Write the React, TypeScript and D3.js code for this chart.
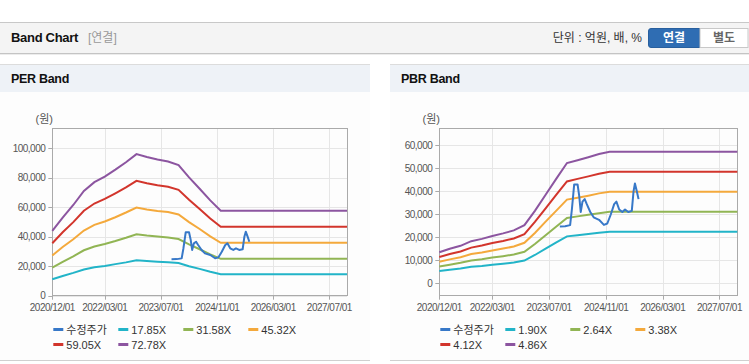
import React from "react";
import * as d3 from "d3";

// ---- Data ----
const bandDates = ["2020-12-01","2021-03-01","2021-06-01","2021-09-01","2021-12-01","2022-03-01","2022-06-01","2022-09-01","2022-12-01","2023-03-01","2023-06-01","2023-09-01","2023-12-01","2024-03-01","2024-06-01","2024-09-01","2024-12-01","2027-12-01"];

const perLabels = ["17.85X", "31.58X", "45.32X", "59.05X", "72.78X"];
const per1785 = [11200, 13400, 15500, 17800, 19300, 20200, 21400, 22600, 24000, 23500, 23100, 22700, 22100, 20000, 18200, 16300, 14600, 14600];
const per3158 = [19100, 23000, 26700, 30800, 33400, 35100, 37100, 39300, 41700, 40800, 40100, 39500, 38400, 34800, 31500, 28000, 25000, 25000];
const per4532 = [27300, 33000, 38300, 44200, 48000, 50300, 53200, 56400, 59800, 58500, 57500, 56700, 55100, 49900, 45200, 40200, 35900, 35900];
const per5905 = [35600, 43000, 49900, 57600, 62500, 65600, 69400, 73400, 77900, 76300, 74900, 73800, 71800, 65100, 58800, 52400, 46700, 46700];
const per7278 = [43900, 53000, 61500, 71000, 77000, 80800, 85500, 90500, 96000, 94000, 92300, 91000, 88500, 80200, 72500, 64600, 57600, 57600];

const pbrLabels = ["1.90X", "2.64X", "3.38X", "4.12X", "4.86X"];
const pbr190 = [5300, 5900, 6400, 7200, 7500, 8100, 8500, 9000, 9900, 12300, 15100, 17800, 20400, 20900, 21400, 22000, 22400, 22400];
const pbr264 = [7300, 8100, 8900, 9900, 10500, 11200, 11800, 12500, 13700, 17100, 20900, 24700, 28400, 29100, 29800, 30500, 31100, 31100];
const pbr338 = [9400, 10400, 11300, 12700, 13400, 14300, 15100, 16000, 17600, 21900, 26800, 31600, 36400, 37200, 38100, 39100, 39800, 39800];
const pbr412 = [11400, 12700, 13800, 15500, 16400, 17500, 18400, 19500, 21400, 26700, 32600, 38600, 44300, 45400, 46500, 47600, 48500, 48500];
const pbr486 = [13500, 15000, 16300, 18300, 19300, 20600, 21700, 23000, 25300, 31500, 38500, 45500, 52300, 53500, 54800, 56200, 57200, 57200];

const priceDates = ["2023-10-01","2023-11-15","2023-12-28","2024-01-12","2024-02-01","2024-03-01","2024-03-15","2024-03-28","2024-04-12","2024-05-01","2024-05-19","2024-06-18","2024-07-17","2024-09-01","2024-10-13","2024-11-11","2024-12-10","2025-01-09","2025-01-28","2025-02-21","2025-03-20","2025-04-12","2025-05-10","2025-06-09","2025-06-24","2025-07-06","2025-07-22","2025-08-06"];
const priceValues = [24700, 24800, 25300, 32000, 43000, 43000, 38000, 31000, 35500, 36600, 34400, 31000, 28700, 27600, 25400, 26000, 29800, 34400, 35500, 32100, 31000, 32100, 31000, 31500, 40000, 43400, 40000, 36600];

const xTickLabels = ["2020/12/01", "2022/03/01", "2023/07/01", "2024/11/01", "2026/03/01", "2027/07/01"];
const perYTicks = [0, 20000, 40000, 60000, 80000, 100000];
const pbrYTicks = [0, 10000, 20000, 30000, 40000, 50000, 60000];
const priceLabel = "수정주가";

const bandColors = ["#22b4c8", "#91b554", "#f4a93c", "#d2352c", "#8c55a0"];
const priceColor = "#3778c8";

const FONT = "'Liberation Sans', 'Noto Sans CJK KR', sans-serif";
const parse = d3.timeParse("%Y-%m-%d");
const parseTick = d3.timeParse("%Y/%m/%d");

type PanelProps = {
  px: number; pw: number; title: string;
  left: number; right: number; top: number; bottom: number;
  yDomain: [number, number]; yTicks: number[];
  bands: number[][]; labels: string[];
};

function Panel(p: PanelProps) {
  const x = d3.scaleTime().domain([parse("2020-12-01")!, parse("2027-12-01")!]).range([p.left, p.right]);
  const y = d3.scaleLinear().domain(p.yDomain).range([p.bottom, p.top]);
  const line = d3.line<[Date, number]>().x(d => x(d[0])).y(d => y(d[1]));
  const bDates = bandDates.map(s => parse(s)!);
  const pDates = priceDates.map(s => parse(s)!);
  const fmt = d3.format(",");
  const legendItems = [{ label: priceLabel, color: priceColor }, ...p.labels.map((l, i) => ({ label: l, color: bandColors[i] }))];
  const legX = p.left + 1;
  return (
    <g>
      <rect x={p.px} y={92} width={p.pw} height={268} fill="#fdfdfd" />
      <rect x={p.px} y={64} width={p.pw} height={28} fill="#eef2f7" />
      <line x1={p.px} x2={p.px + p.pw} y1={64.5} y2={64.5} stroke="#dcdcdc" />
      <line x1={p.px} x2={p.px + p.pw} y1={360.5} y2={360.5} stroke="#d0d0d0" />
      <text x={p.px + 11} y={83} fontFamily={FONT} fontWeight="bold" fontSize={12.5} letterSpacing={-0.3} fill="#111">{p.title}</text>
      <text x={p.left - 8} y={123} textAnchor="middle" fontFamily={FONT} fontSize={11} fill="#555">(원)</text>
      {/* grid */}
      {p.yTicks.map(t => (
        <line key={"gy" + t} x1={p.left} x2={p.right} y1={Math.round(y(t)) + 0.5} y2={Math.round(y(t)) + 0.5} stroke="#e6e6e6" />
      ))}
      {xTickLabels.map(t => {
        const xx = Math.round(x(parseTick(t)!)) + 0.5;
        return <line key={"gx" + t} x1={xx} x2={xx} y1={p.top} y2={p.bottom} stroke="#e6e6e6" />;
      })}
      {/* frame */}
      <rect x={Math.round(p.left) + 0.5} y={Math.round(p.top) + 0.5} width={Math.round(p.right - p.left)} height={Math.round(p.bottom - p.top)} fill="none" stroke="#aaaaaa" />
      {/* y ticks */}
      {p.yTicks.map(t => (
        <g key={"yt" + t}>
          <line x1={p.left - 4} x2={p.left} y1={Math.round(y(t)) + 0.5} y2={Math.round(y(t)) + 0.5} stroke="#aaaaaa" />
          <text x={p.left - 7} y={y(t) + 3.5} textAnchor="end" fontFamily={FONT} fontSize={10} letterSpacing={-0.5} fill="#555">{fmt(t)}</text>
        </g>
      ))}
      {/* x ticks */}
      {xTickLabels.map(t => {
        const xx = x(parseTick(t)!);
        return (
          <g key={"xt" + t}>
            <line x1={Math.round(xx) + 0.5} x2={Math.round(xx) + 0.5} y1={p.bottom} y2={p.bottom + 4} stroke="#aaaaaa" />
            <text x={xx} y={p.bottom + 15} textAnchor="middle" fontFamily={FONT} fontSize={10} letterSpacing={-0.5} fill="#555">{t}</text>
          </g>
        );
      })}
      {/* bands */}
      {p.bands.map((b, i) => (
        <path key={"b" + i} d={line(bDates.map((d, j) => [d, b[j]] as [Date, number])) || ""} fill="none" stroke={bandColors[i]} strokeWidth={2} />
      ))}
      <path d={line(pDates.map((d, j) => [d, priceValues[j]] as [Date, number])) || ""} fill="none" stroke={priceColor} strokeWidth={2} strokeLinejoin="round" />
      {/* legend */}
      {legendItems.map((it, i) => {
        const col = i % 4, row = Math.floor(i / 4);
        const lx = legX + col * 65;
        const ly = 329.5 + row * 15;
        return (
          <g key={"lg" + i}>
            <line x1={lx} x2={lx + 10} y1={ly} y2={ly} stroke={it.color} strokeWidth={3} />
            <text x={lx + 13} y={ly + 4} fontFamily={FONT} fontSize={11} fill="#333">{it.label}</text>
          </g>
        );
      })}
    </g>
  );
}

export default function App() {
  return (
    <svg width={749} height={364} style={{ position: "absolute", left: 0, top: 0, background: "#fff" }}>
      {/* top header */}
      <rect x={0} y={22} width={749} height={31} fill="#f4f4f4" />
      <line x1={0} x2={749} y1={22.5} y2={22.5} stroke="#c8c8c8" />
      <line x1={0} x2={749} y1={53.5} y2={53.5} stroke="#c4c4c4" />
      <line x1={0} x2={749} y1={54.5} y2={54.5} stroke="#ececec" />
      <text x={11} y={42} fontFamily={FONT} fontWeight="bold" fontSize={13} letterSpacing={-0.3} fill="#111">Band Chart</text>
      <text x={88} y={42} fontFamily={FONT} fontSize={12} fill="#999">[연결]</text>
      <text x={642} y={42} textAnchor="end" fontFamily={FONT} fontSize={12} fill="#333">단위 : 억원, 배, %</text>
      <path d="M651,28.5 H700 V47.5 H651 Q648.5,47.5 648.5,45 V31 Q648.5,28.5 651,28.5 Z" fill="#2f6db3" stroke="#285f9e" />
      <rect x={700} y={28.5} width={48} height={19} fill="#ffffff" stroke="#c8c8c8" />
      <text x={674} y={42} textAnchor="middle" fontFamily={FONT} fontWeight="bold" fontSize={12} fill="#fff">연결</text>
      <text x={724} y={42} textAnchor="middle" fontFamily={FONT} fontWeight="bold" fontSize={12} fill="#666">별도</text>
      <Panel px={0} pw={370} title="PER Band" left={52.3} right={347} top={128.3} bottom={295.7}
        yDomain={[0, 113500]} yTicks={perYTicks} bands={[per1785, per3158, per4532, per5905, per7278]} labels={perLabels} />
      <Panel px={390} pw={359} title="PBR Band" left={439.3} right={737.3} top={128.3} bottom={295.7}
        yDomain={[-5400, 67400]} yTicks={pbrYTicks} bands={[pbr190, pbr264, pbr338, pbr412, pbr486]} labels={pbrLabels} />
    </svg>
  );
}
